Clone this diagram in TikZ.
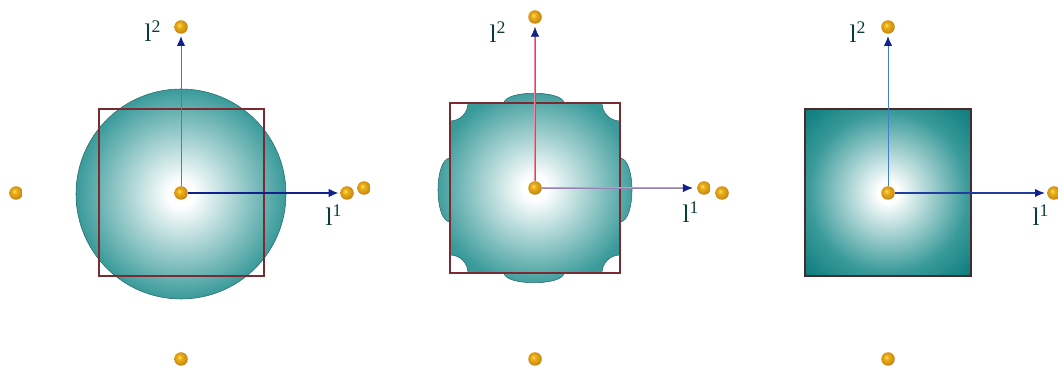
\documentclass[tikz,border=0pt]{standalone}
\usepackage{fontspec}
\setmainfont{Liberation Serif}
\usepackage{xcolor}
\usepackage{tikz}
\usetikzlibrary{positioning, arrows.meta, calc}
\definecolor{tealC}{HTML}{3A9A9A}
\definecolor{tealD}{HTML}{08797A}
\definecolor{sqEdge}{HTML}{7A2A30}
\definecolor{sqEdgeD}{HTML}{4A2A2A}
\definecolor{atomHi}{HTML}{FFE860}
\definecolor{atomC}{HTML}{EDB01A}
\definecolor{atomD}{HTML}{A86406}
\definecolor{axisNavy}{HTML}{12208C}
\definecolor{axisBlue}{HTML}{3F7FCC}
\definecolor{axisHalo}{HTML}{F08A9C}
\definecolor{lblC}{HTML}{0F3A3A}
\pgfdeclareradialshading{glow}{\pgfpoint{0bp}{0bp}}{color(0bp)=(white); color(3bp)=(white); color(25bp)=(tealC); color(50bp)=(tealC)}
\pgfdeclareradialshading{glowsq}{\pgfpoint{0bp}{0bp}}{color(0bp)=(white); color(3bp)=(white); color(24bp)=(tealC); color(36bp)=(tealD); color(50bp)=(tealD)}
\pgfdeclareradialshading{atomball}{\pgfpoint{-7bp}{7bp}}{color(0bp)=(atomHi); color(8bp)=(atomC); color(22bp)=(atomC!60!atomD); color(32bp)=(atomD); color(50bp)=(atomD)}

\begin{document}
\begin{tikzpicture}[x=0.025cm, y=0.025cm,
  atom/.style={circle, inner sep=0pt, minimum size=13.5*0.025cm, shading=atomball},
  cell/.style={draw=sqEdge, line width=1.1pt},
  halo/.style={draw=axisHalo, line width=1.1pt, shorten >=6pt},
  axis/.style={-{Latex[length=7pt, width=6pt, color=axisNavy]}, line width=0.7pt},
  lbl/.style={font=\fontsize{18}{20}\selectfont, text=lblC, inner sep=0pt}]
\useasboundingbox (0,0) rectangle (1058,367);
% first cell: sphere and square
\shade[shading=glow, draw=tealC!70!black, line width=0.4pt] (181,173) circle[radius=105];
\draw[cell] (99,91) rectangle (264,258);
\node[atom] (c1) at (181,174) {};
\node[atom] (t1) at (181,340) {};
\node[atom] (b1) at (181,8) {};
\node[atom] (w1) at (16,174) {};
\node[atom] (e1) at (347,174) {};
\node[atom] (e1b) at (364,179) {};
\draw[axis, draw=axisBlue, shorten >=1.5pt] (c1) -- (t1);
\draw[axis, draw=axisNavy, line width=1pt, shorten >=1pt] (c1) -- (e1);
\node[lbl] (l2a) at (153,336) {l\textsuperscript{2}};
\node[lbl] (l1a) at (334,152) {l\textsuperscript{1}};
% second cell: cut sphere
\shade[shading=glow, draw=tealC!70!black, line width=0.4pt]
  (468,264) -- (504,264) .. controls (505,277) and (563,277) .. (564,264) -- (602,264)
  arc[start angle=180, end angle=270, radius=18] -- (620,209)
  .. controls (636,208) and (636,146) .. (620,145) -- (620,112)
  arc[start angle=90, end angle=180, radius=18] -- (564,94)
  .. controls (563,81) and (505,81) .. (504,94) -- (468,94)
  arc[start angle=0, end angle=90, radius=18] -- (450,145)
  .. controls (434,146) and (434,208) .. (450,209) -- (450,246)
  arc[start angle=270, end angle=360, radius=18] -- cycle;
\draw[cell, line width=1.3pt] (450,94) rectangle (620,264);
\node[atom] (c2) at (535,179) {};
\node[atom] (t2) at (535,350) {};
\node[atom] (b2) at (535,8) {};
\node[atom] (e2) at (704,179) {};
\node[atom] (e2b) at (722,174) {};
\draw[halo] (c2) -- (t2);
\draw[halo] (c2) -- (e2);
\draw[axis, draw=axisBlue, line width=0.4pt, shorten >=2pt] (c2) -- (t2);
\draw[axis, draw=axisBlue!50!axisHalo, line width=0.4pt, shorten >=3pt] (c2) -- (e2);
\node[lbl] (l2b) at (498,335) {l\textsuperscript{2}};
\node[lbl] (l1b) at (691,155) {l\textsuperscript{1}};
% third cell: plain square
\shade[shading=glowsq, draw=sqEdgeD, line width=1.1pt] (805,91) rectangle (971,258);
\node[atom] (c3) at (888,174) {};
\node[atom] (t3) at (888,340) {};
\node[atom] (b3) at (888,8) {};
\node[atom] (e3) at (1054,174) {};
\draw[axis, draw=axisBlue, shorten >=1.5pt] (c3) -- (t3);
\draw[axis, draw=axisNavy!70!axisBlue, line width=0.9pt, shorten >=1.5pt] (c3) -- (e3);
\node[lbl] (l2c) at (858,335) {l\textsuperscript{2}};
\node[lbl] (l1c) at (1041,152) {l\textsuperscript{1}};
\end{tikzpicture}
\end{document}
